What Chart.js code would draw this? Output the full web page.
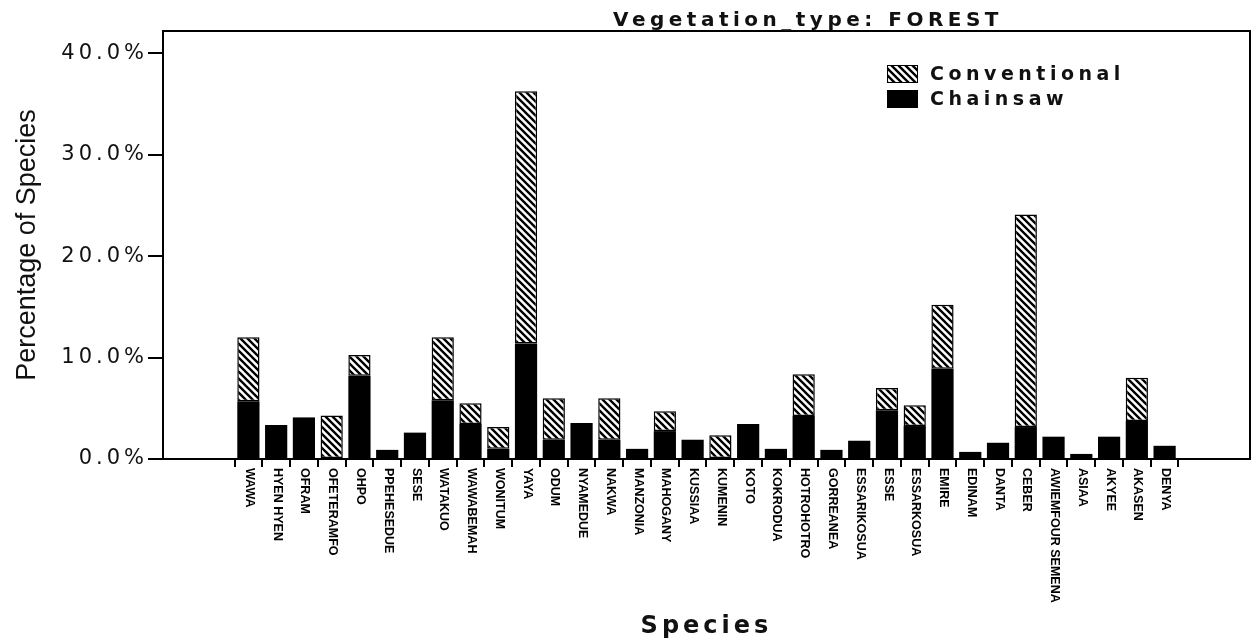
<!DOCTYPE html>
<html>
<head>
<meta charset="utf-8">
<script src="https://cdn.jsdelivr.net/npm/chart.js@4"></script>
<style>
  html, body { margin: 0; padding: 0; background: #fff; }
  #wrap { width: 1257px; height: 644px; }
</style>
</head>
<body>
<div id="wrap"><canvas id="myChart"></canvas></div>
<script>
'use strict';

const species = ['WAWA', 'HYEN HYEN', 'OFRAM', 'OFETERAMFO', 'OHPO', 'PPEHESEDUE', 'SESE',
  'WATAKUO', 'WAWABEMAH', 'WONITUM', 'YAYA', 'ODUM', 'NYAMEDUE', 'NAKWA', 'MANZONIA',
  'MAHOGANY', 'KUSSIAA', 'KUMENIN', 'KOTO', 'KOKRODUA', 'HOTROHOTRO', 'GORREANEA',
  'ESSARIKOSUA', 'ESSE', 'ESSARKOSUA', 'EMIRE', 'EDINAM', 'DANTA', 'CEBER',
  'AWIEMFOUR SEMENA', 'ASIAA', 'AKYEE', 'AKASEN', 'DENYA'];

// percent of species
const chainsaw = [5.7, 3.35, 4.1, 0, 8.2, 0.9, 2.6, 5.8, 3.45, 1.0, 11.4, 1.9, 3.55, 1.9, 1.0,
  2.75, 1.9, 0, 3.45, 1.0, 4.25, 0.9, 1.8, 4.8, 3.25, 8.9, 0.7, 1.6, 3.15, 2.2, 0.5, 2.2, 3.75, 1.3];
const conventional = [6.3, 0, 0, 4.3, 2.05, 0, 0, 6.2, 2.05, 2.15, 24.85, 4.1, 0, 4.1, 0,
  1.95, 0, 2.35, 0, 0, 4.1, 0, 0, 2.2, 2.05, 6.3, 0, 0, 20.95, 0, 0, 0, 4.25, 0];

const yTicks = [0, 10, 20, 30, 40];
const chartTitle = 'Vegetation_type: FOREST';

function makeHatch() {
  const c = document.createElement('canvas');
  c.width = 7;
  c.height = 7;
  const g = c.getContext('2d');
  g.fillStyle = '#fff';
  g.fillRect(0, 0, 7, 7);
  g.strokeStyle = '#000';
  g.lineWidth = 2.4;
  g.beginPath();
  for (let k = -1; k <= 1; k++) {
    g.moveTo(-1, -1 + 7 * k);
    g.lineTo(8, 8 + 7 * k);
  }
  g.stroke();
  return g.createPattern(c, 'repeat');
}

const ctx = document.getElementById('myChart');
const hatch = makeHatch();

// frame, title, legend, rotated species labels
const extras = {
  id: 'extras',
  beforeDraw(chart) {
    chart.ctx.letterSpacing = '0px';
  },
  afterDatasetsDraw(chart) {
    // wide-looking text for the y tick labels and the x title
    chart.ctx.letterSpacing = '4px';
  },
  afterDraw(chart) {
    const c = chart.ctx;
    const a = chart.chartArea;
    c.save();
    c.strokeStyle = '#000';
    c.lineWidth = 2;
    c.beginPath();
    c.moveTo(a.left, a.top);
    c.lineTo(a.right, a.top);
    c.lineTo(a.right, a.bottom);
    c.stroke();

    // species labels, reading top to bottom
    const xs = chart.scales.x;
    c.letterSpacing = '0px';
    c.fillStyle = '#000';
    c.font = 'bold 12.5px "Liberation Sans", Arial, sans-serif';
    c.textAlign = 'left';
    c.textBaseline = 'middle';
    xs.ticks.forEach(t => {
      const x = xs.getPixelForValue(t.value);
      c.save();
      c.translate(x + 1, xs.top + 9);
      c.rotate(Math.PI / 2);
      c.fillText(t.label || species[t.value], 0, 0);
      c.restore();
    });

    // title
    c.letterSpacing = '4.5px';
    c.font = 'bold 20px "DejaVu Sans", sans-serif';
    c.textAlign = 'center';
    c.textBaseline = 'alphabetic';
    c.fillStyle = '#111';
    c.fillText(chartTitle, 808, 26);

    // legend: Conventional first, then Chainsaw
    const items = [chart.data.datasets[1], chart.data.datasets[0]];
    c.font = 'bold 19px "DejaVu Sans", sans-serif';
    c.textAlign = 'left';
    c.textBaseline = 'middle';
    items.forEach((ds, i) => {
      const y = 65 + i * 25;
      c.fillStyle = ds.backgroundColor;
      c.fillRect(887, y, 31, 18);
      c.lineWidth = 1;
      c.strokeStyle = '#000';
      c.strokeRect(887.5, y + 0.5, 30, 17);
      c.fillStyle = '#111';
      c.fillText(ds.label, 930, y + 10);
    });
    c.restore();
    c.letterSpacing = '0px';
  }
};

new Chart(ctx, {
  type: 'bar',
  data: {
    datasets: [{
      label: 'Chainsaw',
      data: chainsaw.map((v, i) => ({ x: i, y: v })),
      backgroundColor: '#000',
      borderWidth: 0
    },
    {
      label: 'Conventional',
      data: conventional.map((v, i) => ({ x: i, y: v })),
      backgroundColor: hatch,
      borderColor: '#000',
      borderWidth: 1.5,
      borderSkipped: false
    }]
  },
  options: {
    responsive: true,
    maintainAspectRatio: false,
    animation: false,
    layout: { padding: { top: 31, right: 7, left: 0, bottom: 0 } },
    barPercentage: 1.0,
    categoryPercentage: 0.8,
    plugins: {
      legend: { display: false },
      title: { display: false },
      tooltip: { enabled: false }
    },
    scales: {
      x: {
        type: 'linear',
        stacked: true,
        min: -2.5,
        max: 35.5,
        afterBuildTicks: (s) => { s.ticks = species.map((_, i) => ({ value: i })); },
        afterFit: (s) => { s.height = 185; },
        ticks: {
          display: false,
          callback: (v) => species[v]
        },
        grid: {
          drawOnChartArea: false,
          drawTicks: true,
          tickLength: 8,
          color: '#000',
          lineWidth: 2,
          z: 2
        },
        border: { display: true, color: '#000', width: 2, z: 3 },
        title: {
          display: true,
          text: 'Species',
          color: '#111',
          font: { family: '"DejaVu Sans", sans-serif', size: 24, weight: 'bold' },
          padding: { top: 0, bottom: 3 }
        }
      },
      y: {
        stacked: true,
        min: 0,
        max: 42.2,
        afterBuildTicks: (s) => { s.ticks = yTicks.map(v => ({ value: v })); },
        afterFit: (s) => { s.width = 163; },
        ticks: {
          callback: (v) => v.toFixed(1) + '%',
          color: '#111',
          padding: 0,
          z: 1,
          font: { family: '"DejaVu Sans", sans-serif', size: 21 }
        },
        grid: {
          drawOnChartArea: false,
          tickLength: 15,
          color: '#000',
          lineWidth: 2
        },
        border: { display: true, color: '#000', width: 2 },
        title: {
          display: true,
          text: 'Percentage of Species',
          color: '#111',
          font: { family: '"Liberation Sans", Arial, sans-serif', size: 27 },
          padding: { top: 11, bottom: 0 }
        }
      }
    }
  },
  plugins: [extras]
});
</script>
</body>
</html>
